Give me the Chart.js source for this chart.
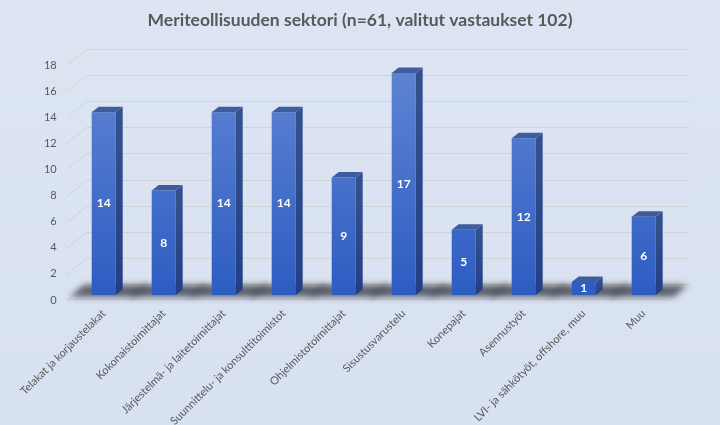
<!DOCTYPE html>
<html lang="fi">
<head>
<meta charset="utf-8">
<title>Meriteollisuuden sektori</title>
<script src="https://cdn.jsdelivr.net/npm/chart.js@4.4.1/dist/chart.umd.min.js"></script>
<style>
  html, body { margin: 0; padding: 0; background: #dae3f3; }
  #wrap { position: relative; width: 720px; height: 425px; background: linear-gradient(#dde5f3, #d8e1f1); }
</style>
</head>
<body>
<div id="wrap"><canvas id="grafiikka"></canvas></div>
<script>
// Tiedot
const otsikko = 'Meriteollisuuden sektori (n=61, valitut vastaukset 102)';
const sektorit = [
  'Telakat ja korjaustelakat',
  'Kokonaistoimittajat',
  'Järjestelmä- ja laitetoimittajat',
  'Suunnittelu- ja konsulttitoimistot',
  'Ohjelmistotoimittajat',
  'Sisustusvarustelu',
  'Konepajat',
  'Asennustyöt',
  'LVI- ja sähkötyöt, offshore, muu',
  'Muu'
];
const vastaukset = [14, 8, 14, 14, 9, 17, 5, 12, 1, 6];
const yTicks = [0, 2, 4, 6, 8, 10, 12, 14, 16, 18];

const harmaa = '#595959';
const fontti = 'Lato, "Open Sans", sans-serif';

// 3D-vaikutelma: ruudukko, varjot, sivut ja katot
const kolmiulotteinen = {
  id: 'kolmiulotteinen',
  beforeDatasetsDraw(chart) {
    const { ctx, chartArea: a, scales: { y } } = chart;
    ctx.save();
    ctx.strokeStyle = '#d2d3d2';
    ctx.lineWidth = 1;
    yTicks.forEach(v => {
      const py = Math.round(y.getPixelForValue(v)) + 0.5;
      ctx.beginPath();
      ctx.moveTo(a.left - 7, py + 5);
      ctx.lineTo(a.left + 13, py - 11);
      ctx.lineTo(a.right + 16, py - 11);
      ctx.stroke();
    });
    const f0 = Math.round(y.getPixelForValue(0)) + 4.5;
    ctx.beginPath();
    ctx.moveTo(a.left - 7, f0);
    ctx.lineTo(a.right - 6, f0);
    ctx.stroke();

    // varjot lattialla
    const meta = chart.getDatasetMeta(0);
    ctx.filter = 'blur(3px)';
    ctx.fillStyle = 'rgba(25,25,35,0.65)';
    meta.data.forEach(bar => {
      const l = bar.x - bar.width / 2, r = bar.x + bar.width / 2, b = bar.base;
      ctx.beginPath();
      ctx.moveTo(l - 22, b + 2);
      ctx.lineTo(r + 18, b + 2);
      ctx.lineTo(r + 32, b - 10);
      ctx.lineTo(l - 8, b - 10);
      ctx.closePath();
      ctx.fill();
    });
    ctx.restore();
  },
  afterDatasetsDraw(chart) {
    const { ctx } = chart;
    const meta = chart.getDatasetMeta(0);
    const dx = 7, dy = 5.5;
    ctx.save();
    meta.data.forEach((bar, i) => {
      const l = bar.x - bar.width / 2, r = bar.x + bar.width / 2;
      const t = bar.y, b = bar.base;
      // sivu
      const gs = ctx.createLinearGradient(0, t, 0, b);
      gs.addColorStop(0, '#34518f');
      gs.addColorStop(1, '#223f86');
      ctx.fillStyle = gs;
      ctx.beginPath();
      ctx.moveTo(r, t);
      ctx.lineTo(r + dx, t - dy);
      ctx.lineTo(r + dx, b - dy);
      ctx.lineTo(r, b);
      ctx.closePath();
      ctx.fill();
      // katto
      ctx.fillStyle = '#3f5d9e';
      ctx.beginPath();
      ctx.moveTo(l, t);
      ctx.lineTo(l + dx, t - dy);
      ctx.lineTo(r + dx, t - dy);
      ctx.lineTo(r, t);
      ctx.closePath();
      ctx.fill();
      // arvo
      ctx.fillStyle = '#ffffff';
      ctx.font = 'bold 12px ' + fontti;
      ctx.textAlign = 'center';
      ctx.textBaseline = 'middle';
      ctx.fillText(vastaukset[i], bar.x, (t + b) / 2);
    });
    ctx.restore();
  }
};

const ctx = document.getElementById('grafiikka').getContext('2d');
const grafiikka = new Chart(ctx, {
  type: 'bar',
  data: {
    labels: sektorit,
    datasets: [{
      label: 'Vastaukset',
      data: vastaukset,
      backgroundColor(c) {
        const area = c.chart.chartArea;
        if (!area) return '#4472c4';
        const g = c.chart.ctx.createLinearGradient(0, area.top, 0, area.bottom);
        g.addColorStop(0, '#6185d3');
        g.addColorStop(1, '#2d5dc2');
        return g;
      },
      borderWidth: 0,
      categoryPercentage: 0.8,
      barPercentage: 0.5
    }]
  },
  options: {
    responsive: true,
    maintainAspectRatio: false,
    animation: false,
    layout: { padding: 0 },
    plugins: {
      legend: { display: false },
      tooltip: { enabled: false },
      title: {
        display: true,
        text: otsikko,
        color: harmaa,
        font: { family: fontti, size: 17.5, weight: 'bold' },
        padding: { top: 10, bottom: 29 }
      }
    },
    scales: {
      x: {
        grid: { display: false, drawTicks: false },
        border: { display: false },
        ticks: {
          color: harmaa,
          font: { family: fontti, size: 11 },
          minRotation: 45,
          maxRotation: 45,
          autoSkip: false,
          padding: 12
        },
        afterFit(s) { s.height = 130; }
      },
      y: {
        min: 0,
        max: 18,
        grid: { display: false, drawTicks: false },
        border: { display: false },
        ticks: {
          stepSize: 2,
          color: harmaa,
          font: { family: fontti, size: 11 },
          padding: 17,
          labelOffset: 5
        },
        afterFit(s) { s.width = 73.7; }
      },
      // tyhjä oikea reuna, jotta otsikko pysyy keskellä
      reuna: {
        position: 'right',
        grid: { display: false, drawTicks: false },
        border: { display: false },
        ticks: { display: false },
        afterFit(s) { s.width = 46.3; }
      }
    }
  },
  plugins: [kolmiulotteinen]
});
</script>
</body>
</html>
